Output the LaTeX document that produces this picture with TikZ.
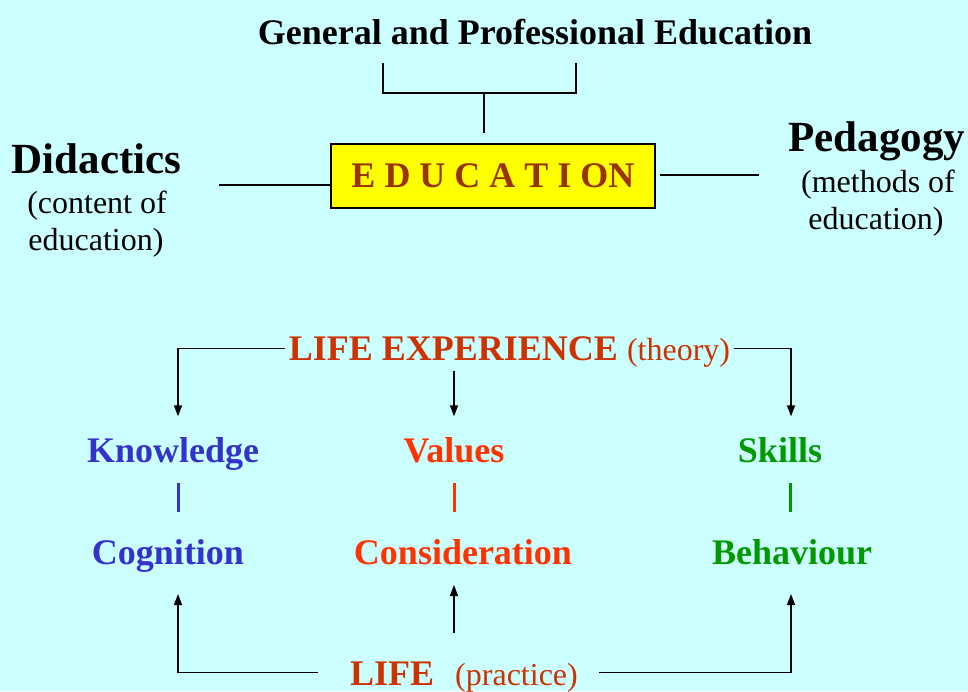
\documentclass[tikz,border=0pt]{standalone}
\usepackage{fontspec}
\setmainfont{Liberation Serif}
\usetikzlibrary{arrows.meta}
\definecolor{bgcyan}{HTML}{CCFFFF}
\definecolor{boxyellow}{HTML}{FFFF00}
\definecolor{edubrown}{HTML}{993300}
\definecolor{liferust}{HTML}{CC3300}
\definecolor{knowblue}{HTML}{3333CC}
\definecolor{valred}{HTML}{FF3300}
\definecolor{skillgreen}{HTML}{009900}

\begin{document}
\begin{tikzpicture}[
            x=1pt, y=-1pt,
            line width=1.3pt,
            Heading/.style={font=\fontsize{36}{40}\selectfont\bfseries, inner sep=0pt, anchor=base},
            BigHeading/.style={font=\fontsize{43}{48}\selectfont\bfseries, inner sep=0pt, anchor=base},
            Note/.style={font=\fontsize{32}{37}\selectfont, inner sep=0pt, anchor=base},
            EduBox/.style={draw, fill=boxyellow, text=edubrown, minimum width=324pt, minimum height=64pt,
                font=\fontsize{36}{40}\selectfont\bfseries, inner sep=0pt},
            Tip/.style={-{Triangle[length=11pt, width=8pt]}},
            Bar/.style={line width=3pt, shorten <=21pt, shorten >=52pt},
            ]
            \useasboundingbox (0,0) rectangle (968,691);
            \fill[bgcyan] (0,0) rectangle (968,691);

            % top part
            \node [Heading] (general) at (535,44) {General and Professional Education};
            \node [EduBox] (education) at (493,176) {E D U C A T I ON};

            \node [BigHeading] (didactics) at (96.5,173) {Didactics};
            \node [Note] (didnote1) at (97,213) {(content of};
            \node [Note] (didnote2) at (96,250) {education)};

            \node [BigHeading] (pedagogy) at (877,151) {Pedagogy};
            \node [Note] (pednote1) at (878,192) {(methods of};
            \node [Note] (pednote2) at (876,229) {education)};

            \coordinate (bracketL) at (383,63);
            \coordinate (bracketR) at (576,63);
            \coordinate (branch) at (484,93);
            \coordinate (didend) at (219,185);
            \coordinate (pedend) at (759,175);

            \draw (bracketL) |- (branch) -| (bracketR);
            \draw[shorten >=10pt] (branch) -- (branch |- education.north);
            \draw ([yshift=-9pt]education.west) -- (didend);
            \draw ([xshift=4pt]education.east |- pedend) -- (pedend);

            % lower part
            \node [Heading, text=liferust, inner sep=3pt] (lifeexp) at (509.5,360)
                {LIFE EXPERIENCE \mdseries\fontsize{32}{37}\selectfont(theory)};

            \node [Heading, text=knowblue] (knowledge) at (173,462) {Knowledge};
            \node [Heading, text=valred] (values) at (454,462) {Values};
            \node [Heading, text=skillgreen] (skills) at (780,462) {Skills};

            \node [Heading, text=knowblue] (cognition) at (168,564) {Cognition};
            \node [Heading, text=valred] (consideration) at (463,564) {Consideration};
            \node [Heading, text=skillgreen] (behaviour) at (792,564) {Behaviour};

            \node [Heading, text=liferust] (life) at (464,685)
                {LIFE\hspace{21pt}\mdseries\fontsize{32}{37}\selectfont(practice)};

            \draw[Tip] ([yshift=3pt]lifeexp.west) -| ([xshift=5pt, yshift=20pt]knowledge.north);
            \draw[Tip] (values |- lifeexp.south) -- ([yshift=20pt]values.north);
            \draw[Tip] ([yshift=3pt]lifeexp.east) -| ([xshift=11pt, yshift=20pt]skills.north);

            \draw[Bar, knowblue] ([xshift=5pt]knowledge.base) -- ([xshift=5pt]knowledge.base |- cognition.base);
            \draw[Bar, valred] (values.base) -- (values.base |- consideration.base);
            \draw[Bar, skillgreen] ([xshift=10pt]skills.base) -- ([xshift=10pt]skills.base |- behaviour.base);

            \draw[Tip, shorten <=32pt] ([yshift=4pt]life.west) -| ([xshift=10pt, yshift=-30pt]cognition.base);
            \draw[Tip, shorten <=28pt, shorten >=21pt] (values |- life.north) -- (values |- consideration.base);
            \draw[Tip, shorten <=21pt] ([yshift=4pt]life.east) -| ([xshift=-1pt, yshift=-30pt]behaviour.base);

        \end{tikzpicture}
\end{document}
